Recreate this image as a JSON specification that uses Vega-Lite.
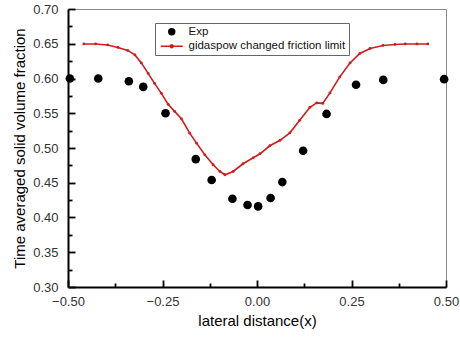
{
  "$schema": "https://vega.github.io/schema/vega-lite/v6.json",
  "width": 378,
  "height": 278,
  "autosize": {"type": "none"},
  "padding": {"left": 68, "top": 9, "right": 14, "bottom": 50},
  "config": {
    "font": "Liberation Sans",
    "view": {"stroke": "#888", "strokeWidth": 1},
    "axis": {"grid": false, "labelFlush": false, "labelOverlap": false, "zindex": 1}
  },
  "datasets": {
    "exp": [
      {"x": -0.495, "y": 0.600, "series": "Exp"},
      {"x": -0.420, "y": 0.600, "series": "Exp"},
      {"x": -0.339, "y": 0.596, "series": "Exp"},
      {"x": -0.301, "y": 0.588, "series": "Exp"},
      {"x": -0.242, "y": 0.550, "series": "Exp"},
      {"x": -0.162, "y": 0.484, "series": "Exp"},
      {"x": -0.120, "y": 0.454, "series": "Exp"},
      {"x": -0.065, "y": 0.427, "series": "Exp"},
      {"x": -0.025, "y": 0.418, "series": "Exp"},
      {"x": 0.003, "y": 0.416, "series": "Exp"},
      {"x": 0.036, "y": 0.428, "series": "Exp"},
      {"x": 0.067, "y": 0.451, "series": "Exp"},
      {"x": 0.122, "y": 0.496, "series": "Exp"},
      {"x": 0.184, "y": 0.549, "series": "Exp"},
      {"x": 0.262, "y": 0.591, "series": "Exp"},
      {"x": 0.334, "y": 0.598, "series": "Exp"},
      {"x": 0.495, "y": 0.599, "series": "Exp"}
    ],
    "model": [
      {"x": -0.458, "y": 0.6497, "series": "gidaspow changed friction limit"},
      {"x": -0.427, "y": 0.6497, "series": "gidaspow changed friction limit"},
      {"x": -0.395, "y": 0.6483, "series": "gidaspow changed friction limit"},
      {"x": -0.368, "y": 0.6447, "series": "gidaspow changed friction limit"},
      {"x": -0.342, "y": 0.6404, "series": "gidaspow changed friction limit"},
      {"x": -0.323, "y": 0.6339, "series": "gidaspow changed friction limit"},
      {"x": -0.306, "y": 0.6224, "series": "gidaspow changed friction limit"},
      {"x": -0.288, "y": 0.6073, "series": "gidaspow changed friction limit"},
      {"x": -0.271, "y": 0.5930, "series": "gidaspow changed friction limit"},
      {"x": -0.253, "y": 0.5786, "series": "gidaspow changed friction limit"},
      {"x": -0.235, "y": 0.5628, "series": "gidaspow changed friction limit"},
      {"x": -0.218, "y": 0.5527, "series": "gidaspow changed friction limit"},
      {"x": -0.200, "y": 0.5420, "series": "gidaspow changed friction limit"},
      {"x": -0.178, "y": 0.5214, "series": "gidaspow changed friction limit"},
      {"x": -0.160, "y": 0.5070, "series": "gidaspow changed friction limit"},
      {"x": -0.138, "y": 0.4902, "series": "gidaspow changed friction limit"},
      {"x": -0.116, "y": 0.4759, "series": "gidaspow changed friction limit"},
      {"x": -0.098, "y": 0.4662, "series": "gidaspow changed friction limit"},
      {"x": -0.085, "y": 0.4615, "series": "gidaspow changed friction limit"},
      {"x": -0.063, "y": 0.4662, "series": "gidaspow changed friction limit"},
      {"x": -0.037, "y": 0.4773, "series": "gidaspow changed friction limit"},
      {"x": -0.010, "y": 0.4859, "series": "gidaspow changed friction limit"},
      {"x": 0.008, "y": 0.4917, "series": "gidaspow changed friction limit"},
      {"x": 0.034, "y": 0.5032, "series": "gidaspow changed friction limit"},
      {"x": 0.061, "y": 0.5111, "series": "gidaspow changed friction limit"},
      {"x": 0.087, "y": 0.5218, "series": "gidaspow changed friction limit"},
      {"x": 0.113, "y": 0.5398, "series": "gidaspow changed friction limit"},
      {"x": 0.140, "y": 0.5585, "series": "gidaspow changed friction limit"},
      {"x": 0.158, "y": 0.5649, "series": "gidaspow changed friction limit"},
      {"x": 0.174, "y": 0.5642, "series": "gidaspow changed friction limit"},
      {"x": 0.193, "y": 0.5793, "series": "gidaspow changed friction limit"},
      {"x": 0.219, "y": 0.6023, "series": "gidaspow changed friction limit"},
      {"x": 0.246, "y": 0.6224, "series": "gidaspow changed friction limit"},
      {"x": 0.272, "y": 0.6361, "series": "gidaspow changed friction limit"},
      {"x": 0.299, "y": 0.6432, "series": "gidaspow changed friction limit"},
      {"x": 0.333, "y": 0.6476, "series": "gidaspow changed friction limit"},
      {"x": 0.365, "y": 0.6490, "series": "gidaspow changed friction limit"},
      {"x": 0.392, "y": 0.6497, "series": "gidaspow changed friction limit"},
      {"x": 0.423, "y": 0.6497, "series": "gidaspow changed friction limit"},
      {"x": 0.452, "y": 0.6497, "series": "gidaspow changed friction limit"}
    ]
  },
  "layer": [
    {
      "data": {"name": "model"},
      "mark": {"type": "line", "color": "#d01c1c", "strokeWidth": 1.6},
      "encoding": {
        "x": {
          "field": "x", "type": "quantitative",
          "scale": {"domain": [-0.5, 0.5], "nice": false, "zero": false},
          "axis": {
            "orient": "bottom",
            "title": "lateral distance(x)",
            "values": [-0.5, -0.25, 0, 0.25, 0.5],
            "format": ".2f",
            "labelFontSize": 13, "labelColor": "#333",
            "tickSize": -7, "tickColor": "black", "tickWidth": 1.8,
            "labelPadding": 15,
            "domainColor": "black", "domainWidth": 2,
            "titleFontSize": 15, "titleFontWeight": "normal", "titleColor": "black",
            "titlePadding": 5
          }
        },
        "y": {
          "field": "y", "type": "quantitative",
          "scale": {"domain": [0.3, 0.7], "nice": false, "zero": false},
          "axis": {
            "orient": "left",
            "title": "Time averaged solid volume fraction",
            "values": [0.3, 0.35, 0.4, 0.45, 0.5, 0.55, 0.6, 0.65, 0.7],
            "format": ".2f",
            "labelFontSize": 13, "labelColor": "#333",
            "tickSize": -7, "tickColor": "black", "tickWidth": 1.8,
            "labelPadding": 17,
            "domainColor": "black", "domainWidth": 2,
            "titleFontSize": 15, "titleFontWeight": "normal", "titleColor": "black",
            "titlePadding": 5
          }
        }
      }
    },
    {
      "data": {"name": "model"},
      "mark": {"type": "point", "filled": true, "color": "#d01c1c", "size": 8, "opacity": 1},
      "encoding": {
        "x": {"field": "x", "type": "quantitative", "axis": null},
        "y": {"field": "y", "type": "quantitative", "axis": null}
      }
    },
    {
      "data": {"name": "exp"},
      "mark": {"type": "point", "filled": true, "size": 75, "opacity": 1, "strokeWidth": 0},
      "encoding": {
        "x": {
          "field": "x", "type": "quantitative",
          "axis": {
            "orient": "bottom", "title": null, "labels": false, "domain": false,
            "values": [-0.375, -0.125, 0.125, 0.375],
            "tickSize": -4, "tickColor": "black", "tickWidth": 1.8
          }
        },
        "y": {
          "field": "y", "type": "quantitative",
          "axis": {
            "orient": "left", "title": null, "labels": false, "domain": false,
            "values": [0.325, 0.375, 0.425, 0.475, 0.525, 0.575, 0.625, 0.675],
            "tickSize": -4, "tickColor": "black", "tickWidth": 1.8
          }
        },
        "color": {
          "field": "series", "type": "nominal",
          "scale": {"domain": ["Exp", "gidaspow changed friction limit"], "range": ["#000000", "#d01c1c"]},
          "legend": {
            "title": null, "orient": "none", "legendX": 87, "legendY": 14,
            "padding": 3, "strokeColor": "#666", "fillColor": "#fff",
            "symbolSize": 55, "symbolOffset": 8, "labelOffset": 11,
            "labelFontSize": 11.5, "labelColor": "#111", "rowPadding": 0.5,
            "symbolOpacity": 1
          }
        },
        "shape": {
          "field": "series", "type": "nominal",
          "scale": {"domain": ["Exp", "gidaspow changed friction limit"], "range": ["circle", "M-2.97,-0.2L2.97,-0.2L2.97,0.2L-2.97,0.2ZM-0.6,0A0.6,0.6,0,1,1,0.6,0A0.6,0.6,0,1,1,-0.6,0Z"]},
          "legend": {
            "title": null, "orient": "none", "legendX": 87, "legendY": 14,
            "padding": 3, "strokeColor": "#666", "fillColor": "#fff",
            "symbolSize": 55, "symbolOffset": 8, "labelOffset": 11,
            "labelFontSize": 11.5, "labelColor": "#111", "rowPadding": 0.5,
            "symbolOpacity": 1
          }
        }
      }
    }
  ],
  "resolve": {"axis": {"x": "independent", "y": "independent"}}
}
